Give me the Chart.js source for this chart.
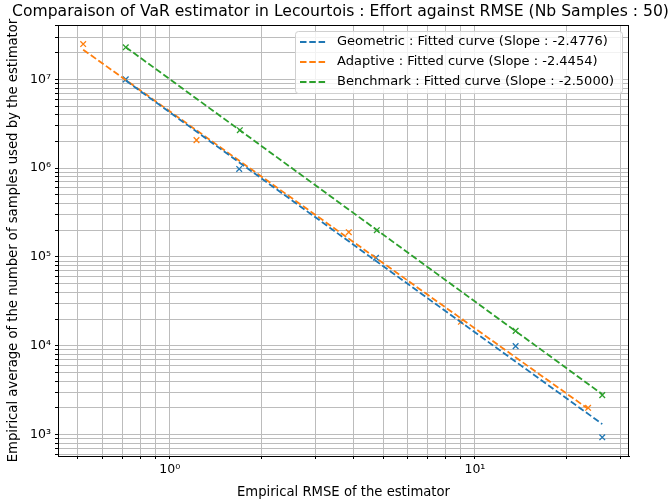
<!DOCTYPE html>
<html>
<head>
<meta charset="utf-8">
<script src="https://cdn.jsdelivr.net/npm/chart.js@4"></script>
<style>
  body { margin: 0; background: #fff; }
  #wrap { width: 672px; height: 504px; }
</style>
</head>
<body>
<div id="wrap"><canvas id="effortChart" width="672" height="504"></canvas></div>
<script>
// Values
const geoX = [0.717, 1.688, 4.74, 13.6, 26.15];
const geoY = [1.0e7, 9.8e5, 9.8e4, 9.9e3, 930];
const adaX = [0.52, 1.223, 3.86, 9.0, 23.5];
const adaY = [2.5e7, 2.07e6, 1.9e5, 1.86e4, 2.0e3];
const benX = [0.717, 1.696, 4.77, 13.6, 26.15];
const benY = [2.3e7, 2.68e6, 2.0e5, 1.47e4, 2.78e3];

// Fitted curve end points
const geoFitX = [0.717, 26.15];
const geoFitY = [9.7e6, 1310];
const adaFitX = [0.52, 23.5];
const adaFitY = [2.16e7, 1945];
const benFitX = [0.717, 26.15];
const benFitY = [2.31e7, 2843];

const fitLabels = [
    'Geometric : Fitted curve (Slope : -2.4776)',
    'Adaptive : Fitted curve (Slope : -2.4454)',
    'Benchmark : Fitted curve (Slope : -2.5000)'
];
const colors = ['#1f77b4', '#ff7f0e', '#2ca02c'];

// Tick positions (major + minor)
const xTicks = [0.5, 0.6, 0.7, 0.8, 0.9, 1, 2, 3, 4, 5, 6, 7, 8, 9, 10, 20, 30];
const yTicks = [600, 700, 800, 900,
    1e3, 2e3, 3e3, 4e3, 5e3, 6e3, 7e3, 8e3, 9e3,
    1e4, 2e4, 3e4, 4e4, 5e4, 6e4, 7e4, 8e4, 9e4,
    1e5, 2e5, 3e5, 4e5, 5e5, 6e5, 7e5, 8e5, 9e5,
    1e6, 2e6, 3e6, 4e6, 5e6, 6e6, 7e6, 8e6, 9e6,
    1e7, 2e7, 3e7, 4e7];
const tickLabels = { 1: '10⁰', 10: '10¹', 1e3: '10³', 1e4: '10⁴', 1e5: '10⁵', 1e6: '10⁶', 1e7: '10⁷' };

const titleText = 'Comparaison of VaR estimator in Lecourtois : Effort against RMSE (Nb Samples : 50)';
const FONT = "'DejaVu Sans', sans-serif";

function toPoints(xs, ys) {
    return xs.map((x, i) => ({ x: x, y: ys[i] }));
}

function scatterSet(xs, ys, color) {
    return {
        data: toPoints(xs, ys),
        showLine: false,
        pointStyle: 'crossRot',
        pointRadius: 4,
        pointBorderWidth: 1.3,
        borderColor: color,
        backgroundColor: color
    };
}

function fitSet(xs, ys, color, label) {
    return {
        label: label,
        data: toPoints(xs, ys),
        showLine: true,
        pointRadius: 0,
        borderColor: color,
        borderWidth: 1.8,
        borderDash: [6.5, 2.8]
    };
}

// Title, frame and in-axes legend like matplotlib
const framePlugin = {
    id: 'frame',
    beforeDraw(chart) {
        const ctx = chart.ctx;
        ctx.save();
        ctx.fillStyle = '#fff';
        ctx.fillRect(0, 0, chart.width, chart.height);
        ctx.restore();
    },
    afterDraw(chart) {
        const ctx = chart.ctx;
        const a = chart.chartArea;
        ctx.save();
        ctx.strokeStyle = '#000';
        ctx.lineWidth = 1;
        ctx.strokeRect(Math.round(a.left) + 0.5, Math.round(a.top) + 0.5,
            Math.round(a.right - a.left) - 1, Math.round(a.bottom - a.top));

        // title
        ctx.fillStyle = '#000';
        ctx.font = '15.6px ' + FONT;
        ctx.textAlign = 'center';
        ctx.textBaseline = 'middle';
        ctx.fillText(titleText, 340.5, 12);

        // legend
        ctx.font = '13px ' + FONT;
        const fits = chart.data.datasets.filter(d => d.label);
        let maxW = 0;
        fits.forEach(d => { maxW = Math.max(maxW, ctx.measureText(d.label).width); });
        const boxW = 5 + 26 + 11 + maxW + 8;
        const boxH = 62;
        const bx = a.right - 7 - boxW;
        const by = a.top + 6;
        ctx.beginPath();
        ctx.roundRect(bx + 0.5, by + 0.5, boxW, boxH, 3);
        ctx.fillStyle = 'rgba(255,255,255,0.8)';
        ctx.fill();
        ctx.strokeStyle = '#d0d0d0';
        ctx.lineWidth = 1;
        ctx.stroke();
        fits.forEach((d, i) => {
            const yy = by + 11 + i * 20;
            ctx.beginPath();
            ctx.setLineDash(d.borderDash);
            ctx.strokeStyle = d.borderColor;
            ctx.lineWidth = d.borderWidth;
            ctx.moveTo(bx + 5, yy);
            ctx.lineTo(bx + 31, yy);
            ctx.stroke();
            ctx.setLineDash([]);
            ctx.fillStyle = '#000';
            ctx.textAlign = 'left';
            ctx.fillText(d.label, bx + 42, yy);
        });
        ctx.restore();
    }
};

const gridOpts = {
    color: '#bcbcbc',
    lineWidth: 1,
    drawTicks: true,
    tickLength: 3,
    tickColor: '#000'
};

const ctx = document.getElementById('effortChart').getContext('2d');
const effortChart = new Chart(ctx, {
    type: 'scatter',
    data: {
        datasets: [
            fitSet(geoFitX, geoFitY, colors[0], fitLabels[0]),
            fitSet(adaFitX, adaFitY, colors[1], fitLabels[1]),
            fitSet(benFitX, benFitY, colors[2], fitLabels[2]),
            scatterSet(geoX, geoY, colors[0]),
            scatterSet(adaX, adaY, colors[1]),
            scatterSet(benX, benY, colors[2])
        ]
    },
    options: {
        responsive: false,
        animation: false,
        devicePixelRatio: 1,
        layout: { padding: { left: 0, right: 43, top: 25, bottom: 0 } },
        plugins: {
            legend: { display: false },
            title: { display: false },
            tooltip: { enabled: false }
        },
        scales: {
            x: {
                type: 'logarithmic',
                min: 0.43,
                max: 32,
                grid: gridOpts,
                border: { color: '#000', width: 1 },
                afterBuildTicks: scale => { scale.ticks = xTicks.map(v => ({ value: v })); },
                afterFit: scale => { scale.height = 48; },
                ticks: {
                    autoSkip: false,
                    maxRotation: 0,
                    padding: 3,
                    color: '#000',
                    font: { family: FONT, size: 12.5 },
                    callback: v => tickLabels[v] || ''
                },
                title: {
                    display: true,
                    text: 'Empirical RMSE of the estimator',
                    color: '#000',
                    font: { family: FONT, size: 13.2 },
                    padding: { top: 0, bottom: 4 }
                }
            },
            y: {
                type: 'logarithmic',
                min: 573,
                max: 4.1e7,
                grid: gridOpts,
                border: { color: '#000', width: 1 },
                afterBuildTicks: scale => { scale.ticks = yTicks.map(v => ({ value: v })); },
                afterFit: scale => { scale.width = 58; },
                ticks: {
                    autoSkip: false,
                    padding: 4,
                    color: '#000',
                    font: { family: FONT, size: 12.5 },
                    callback: v => tickLabels[v] || ''
                },
                title: {
                    display: true,
                    text: 'Empirical average of the number of samples used by the estimator',
                    color: '#000',
                    font: { family: FONT, size: 13.2 },
                    padding: { top: 6, bottom: 0 }
                }
            }
        }
    },
    plugins: [framePlugin]
});
</script>
</body>
</html>
